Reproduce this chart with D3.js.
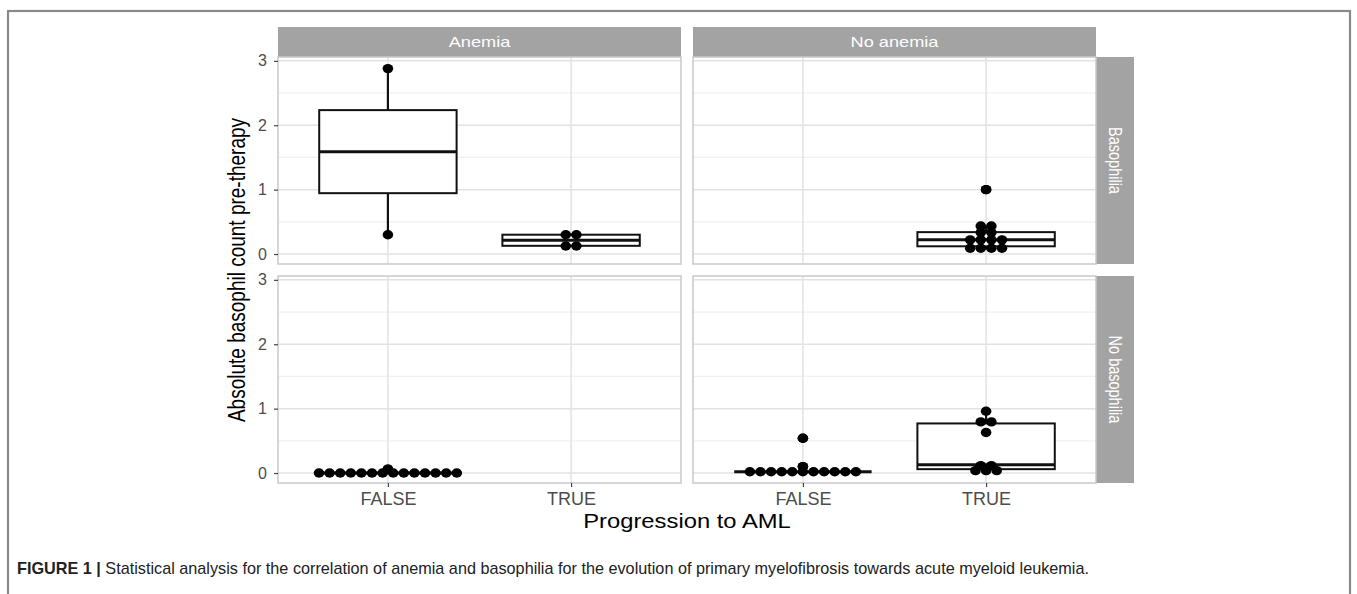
<!DOCTYPE html>
<html>
<head>
<meta charset="utf-8">
<script src="https://cdn.jsdelivr.net/npm/d3@7"></script>
<style>
  html, body { margin: 0; padding: 0; background: #fff; }
  svg { display: block; font-family: "Liberation Sans", Arial, Helvetica, sans-serif; }
</style>
</head>
<body>
<svg id="chart" width="1357" height="594"></svg>
<script>
// ---------- data ----------
const colFacets = ["Anemia", "No anemia"];
const rowFacets = ["Basophilia", "No basophilia"];
const categories = ["FALSE", "TRUE"];
const yTicks = [0, 1, 2, 3];
const yMinorTicks = [0.5, 1.5, 2.5];
const yTitle = "Absolute basophil count pre-therapy";
const xTitle = "Progression to AML";
const captionBold = "FIGURE 1 |";
const captionText = " Statistical analysis for the correlation of anemia and basophilia for the evolution of primary myelofibrosis towards acute myeloid leukemia.";

// values per panel (row facet, column facet, category)
const anemiaBasoFalse = [0.3, 2.88];
const anemiaBasoTrue = [0.12, 0.13, 0.3, 0.3];
const noAnemiaBasoFalse = [];
const noAnemiaBasoTrue = [0.07, 0.08, 0.09, 0.12, 0.21, 0.22, 0.22, 0.23, 0.33, 0.34, 0.43, 0.44, 1.0];
const anemiaNoBasoFalse = [0, 0, 0, 0, 0, 0, 0, 0, 0, 0, 0, 0, 0, 0, 0.06];
const anemiaNoBasoTrue = [];
const noAnemiaNoBasoFalse = [0.02, 0.02, 0.02, 0.02, 0.02, 0.02, 0.02, 0.02, 0.02, 0.02, 0.02, 0.1, 0.54];
const noAnemiaNoBasoTrue = [0.02, 0.03, 0.06, 0.1, 0.13, 0.63, 0.77, 0.82, 0.96];

const panels = [
  { row: "Basophilia", col: "Anemia", groups: { "FALSE": anemiaBasoFalse, "TRUE": anemiaBasoTrue } },
  { row: "Basophilia", col: "No anemia", groups: { "FALSE": noAnemiaBasoFalse, "TRUE": noAnemiaBasoTrue } },
  { row: "No basophilia", col: "Anemia", groups: { "FALSE": anemiaNoBasoFalse, "TRUE": anemiaNoBasoTrue } },
  { row: "No basophilia", col: "No anemia", groups: { "FALSE": noAnemiaNoBasoFalse, "TRUE": noAnemiaNoBasoTrue } }
];

// ---------- layout ----------
const svg = d3.select("#chart");
const panelW = 403, panelH = 207;
const colX = d3.scaleOrdinal().domain(colFacets).range([278, 693]);
const rowY = d3.scaleOrdinal().domain(rowFacets).range([57, 276]);
const stripH = 30, stripW = 38;
const yDomain = [-0.155, 3.06];
const dotRx = 5.3, dotRy = 4.7, dotStep = 10.6, binWidth = 0.05;
const hStretch = 1.22;

// outer frame
svg.append("rect").attr("x", 8).attr("y", 11).attr("width", 1342).attr("height", 620)
  .attr("fill", "none").attr("stroke", "#8a8a8a").attr("stroke-width", 2.2);

const gridMajor = "#e2e2e2", gridMinor = "#f0f0f0", borderCol = "#c9c9c9", stripFill = "#a3a3a3";

// column strips
colFacets.forEach(c => {
  const x0 = colX(c);
  svg.append("rect").attr("x", x0).attr("y", rowY(rowFacets[0]) - stripH)
    .attr("width", panelW).attr("height", stripH).attr("fill", stripFill);
  svg.append("text")
    .attr("transform", `translate(${x0 + panelW / 2},${rowY(rowFacets[0]) - stripH / 2 + 5}) scale(1.3,1)`)
    .attr("text-anchor", "middle").attr("font-size", 14).attr("fill", "#ffffff").text(c);
});
// row strips
rowFacets.forEach(r => {
  const y0 = rowY(r);
  const x0 = colX(colFacets[1]) + panelW;
  svg.append("rect").attr("x", x0).attr("y", y0).attr("width", stripW).attr("height", panelH).attr("fill", stripFill);
  svg.append("text")
    .attr("transform", `translate(${x0 + stripW / 2 - 6},${y0 + panelH / 2}) scale(${hStretch},1) rotate(90)`)
    .attr("text-anchor", "middle").attr("font-size", 14.5).attr("fill", "#ffffff").text(r);
});

function binDots(values) {
  const sorted = values.slice().sort(d3.ascending);
  const bins = [];
  let cur = null;
  sorted.forEach(v => {
    if (cur && v - cur.start < binWidth) cur.vals.push(v);
    else { cur = { start: v, vals: [v] }; bins.push(cur); }
  });
  return bins;
}

function dot(g, cx, cy) {
  g.append("ellipse").attr("cx", cx).attr("cy", cy).attr("rx", dotRx).attr("ry", dotRy).attr("fill", "#000");
}

panels.forEach(p => {
  const x0 = colX(p.col), y0 = rowY(p.row);
  const g = svg.append("g");
  const x = d3.scalePoint().domain(categories).range([x0, x0 + panelW]).padding(0.6);
  const y = d3.scaleLinear().domain(yDomain).range([y0 + panelH, y0]);
  const boxW = x.step() * 0.75;

  g.append("rect").attr("x", x0).attr("y", y0).attr("width", panelW).attr("height", panelH).attr("fill", "#fff");
  // minor grid
  yMinorTicks.forEach(t => g.append("line").attr("x1", x0).attr("x2", x0 + panelW)
    .attr("y1", y(t)).attr("y2", y(t)).attr("stroke", gridMinor).attr("stroke-width", 1.2));
  // major grid
  yTicks.forEach(t => g.append("line").attr("x1", x0).attr("x2", x0 + panelW)
    .attr("y1", y(t)).attr("y2", y(t)).attr("stroke", gridMajor).attr("stroke-width", 1.5));
  categories.forEach(c => g.append("line").attr("x1", x(c)).attr("x2", x(c))
    .attr("y1", y0).attr("y2", y0 + panelH).attr("stroke", gridMajor).attr("stroke-width", 1.5));

  // boxplots
  categories.forEach(c => {
    const vals = p.groups[c];
    if (!vals.length) return;
    const s = vals.slice().sort(d3.ascending);
    const q1 = d3.quantileSorted(s, 0.25), med = d3.quantileSorted(s, 0.5), q3 = d3.quantileSorted(s, 0.75);
    const iqr = q3 - q1;
    const inside = s.filter(v => v >= q1 - 1.5 * iqr && v <= q3 + 1.5 * iqr);
    const lo = d3.min(inside), hi = d3.max(inside);
    const cx = x(c);
    g.append("line").attr("x1", cx).attr("x2", cx).attr("y1", y(q3)).attr("y2", y(hi)).attr("stroke", "#111").attr("stroke-width", 2.2);
    g.append("line").attr("x1", cx).attr("x2", cx).attr("y1", y(q1)).attr("y2", y(lo)).attr("stroke", "#111").attr("stroke-width", 2.2);
    g.append("rect").attr("x", cx - boxW / 2).attr("y", y(q3)).attr("width", boxW)
      .attr("height", Math.max(0, y(q1) - y(q3))).attr("fill", "#fff").attr("stroke", "#111").attr("stroke-width", 2);
    g.append("line").attr("x1", cx - boxW / 2).attr("x2", cx + boxW / 2).attr("y1", y(med)).attr("y2", y(med))
      .attr("stroke", "#111").attr("stroke-width", 3);
    // outliers
    s.filter(v => v < lo || v > hi).forEach(v => dot(g, cx, y(v)));
    // dotplot
    binDots(vals).forEach(b => {
      const n = b.vals.length, cy = y(d3.mean(b.vals));
      b.vals.forEach((v, i) => dot(g, cx + (i - (n - 1) / 2) * dotStep, cy));
    });
  });

  // border
  g.append("rect").attr("x", x0).attr("y", y0).attr("width", panelW).attr("height", panelH)
    .attr("fill", "none").attr("stroke", borderCol).attr("stroke-width", 1.5);

  // y axis on left column
  if (p.col === colFacets[0]) {
    const ax = svg.append("g").attr("transform", `translate(${x0},0)`)
      .call(d3.axisLeft(y).tickValues(yTicks).tickSize(4).tickPadding(7).tickFormat(d3.format("d")));
    ax.select(".domain").remove();
    ax.selectAll("line").attr("stroke", "#444").attr("stroke-width", 1.2);
    ax.selectAll("text").attr("font-size", 16).attr("fill", "#4d4d4d").attr("font-family", null);
  }
  // x axis on bottom row
  if (p.row === rowFacets[1]) {
    const ax = svg.append("g").attr("transform", `translate(0,${y0 + panelH})`)
      .call(d3.axisBottom(x).tickSize(4).tickPadding(5));
    ax.select(".domain").remove();
    ax.selectAll("line").attr("stroke", "#444").attr("stroke-width", 1.2);
    ax.selectAll("text").attr("font-size", 18).attr("fill", "#4d4d4d").attr("font-family", null);
  }
});

// axis titles
const plotLeft = colX(colFacets[0]), plotRight = colX(colFacets[1]) + panelW;
svg.append("text").attr("transform", `translate(${(plotLeft + plotRight) / 2},528) scale(${hStretch},1)`)
  .attr("text-anchor", "middle").attr("font-size", 19.5).attr("fill", "#000").text(xTitle);
svg.append("text").attr("transform", `translate(245,${(rowY(rowFacets[0]) + rowY(rowFacets[1]) + panelH) / 2}) scale(${hStretch},1) rotate(-90)`)
  .attr("text-anchor", "middle").attr("font-size", 19).attr("fill", "#000").text(yTitle);

// caption
const cap = svg.append("text").attr("x", 17).attr("y", 574).attr("font-size", 17).attr("fill", "#222")
  .attr("font-family", "'Liberation Sans Narrow', 'Liberation Sans', Arial, sans-serif")
  .attr("textLength", 1072).attr("lengthAdjust", "spacingAndGlyphs");
cap.append("tspan").attr("font-weight", "bold").text(captionBold);
cap.append("tspan").text(captionText);
</script>
</body>
</html>
